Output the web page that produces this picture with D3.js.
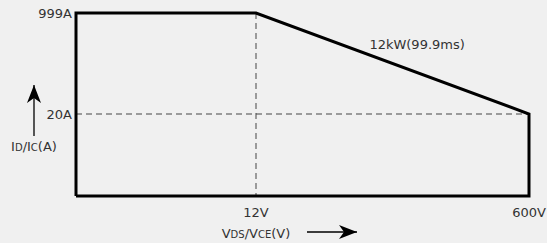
<!DOCTYPE html>
<html>
<head>
<meta charset="utf-8">
<script src="https://cdn.jsdelivr.net/npm/d3@7"></script>
<style>
  body {margin:0; background:#f0f0f0;}
  svg text {font-family:"DejaVu Sans", "Noto Sans", sans-serif; font-size:13px; fill:#333;}
</style>
</head>
<body>
<svg id=holder></svg>
<script>
// safe operating area outline (schematic, piecewise scales)
var x_ticks=[0,12,600];
var x_tick_labels=['','12V','600V'];
var y_ticks=[0,20,999];
var y_tick_labels=['','20A','999A'];
var soa_v=[0,0,12,600,600,0];
var soa_i=[0,999,999,20,0,0];
var power_label='12kW(99.9ms)';

var width=547;
var height=243;

var svg=d3.select('#holder').attr('width',width).attr('height',height);
var gg=svg.append('g');

var xscale=d3.scaleLinear().domain(x_ticks).range([76,256,529]);
var yscale=d3.scaleLinear().domain(y_ticks).range([196,114,13]);

// dashed guides
gg.append('line')
  .attr('x1',xscale(12)).attr('x2',xscale(12))
  .attr('y1',yscale(999)).attr('y2',yscale(0))
  .attr('stroke','#444').attr('stroke-width',1).attr('stroke-dasharray','6,4');
gg.append('line')
  .attr('x1',xscale(0)).attr('x2',xscale(600))
  .attr('y1',yscale(20)).attr('y2',yscale(20))
  .attr('stroke','#444').attr('stroke-width',1).attr('stroke-dasharray','6,4');

// outline
var data0=[];
for (var i=0; i<soa_v.length; i++) data0.push({x:soa_v[i],y:soa_i[i]});
var line=d3.line()
  .x(function(d) {return xscale(d.x);})
  .y(function(d) {return yscale(d.y);});
gg.append('path').attr('d',line(data0))
  .attr('fill','none').attr('stroke','#000').attr('stroke-width',3).attr('stroke-linejoin','miter');

// y tick labels
for (var i=0; i<y_ticks.length; i++) {
  if (!y_tick_labels[i]) continue;
  gg.append('text')
    .attr('x',xscale(0)-4).attr('y',yscale(y_ticks[i]))
    .attr('dy','0.35em').style('text-anchor','end')
    .text(y_tick_labels[i]);
}
// x tick labels
for (var i=0; i<x_ticks.length; i++) {
  if (!x_tick_labels[i]) continue;
  gg.append('text')
    .attr('x',xscale(x_ticks[i])).attr('y',yscale(0)+16)
    .attr('dy','0.35em').style('text-anchor','middle')
    .text(x_tick_labels[i]);
}

gg.append('text')
  .attr('x',xscale(359)).attr('y',yscale(698))
  .attr('dy','0.35em').style('text-anchor','middle')
  .text(power_label);

// axis names with arrows
var defs=svg.append('defs');
defs.append('marker').attr('id','arrow')
  .attr('viewBox','0 0 18 14').attr('refX',18).attr('refY',7)
  .attr('markerWidth',18).attr('markerHeight',14).attr('markerUnits','userSpaceOnUse')
  .attr('orient','auto')
  .append('path').attr('d','M0,0 L18,7 L0,14 L5,7 Z').attr('fill','#000');

gg.append('line')
  .attr('x1',34).attr('x2',34).attr('y1',136).attr('y2',85)
  .attr('stroke','#000').attr('stroke-width',1.3).attr('marker-end','url(#arrow)');
gg.append('line')
  .attr('x1',307).attr('x2',357).attr('y1',232).attr('y2',232)
  .attr('stroke','#000').attr('stroke-width',1.3).attr('marker-end','url(#arrow)');

function sub_label(x,y,parts) {
  var t=gg.append('text').attr('x',x).attr('y',y).attr('dy','0.35em').style('text-anchor','middle');
  parts.forEach(function(p) {
    t.append('tspan').style('font-size',p[1]?'10px':'13px').text(p[0]);
  });
}
sub_label(34,146,[['I',0],['D',1],['/I',0],['C',1],['(A)',0]]);
sub_label(256,233,[['V',0],['DS',1],['/V',0],['CE',1],['(V)',0]]);
</script>
</body>
</html>
